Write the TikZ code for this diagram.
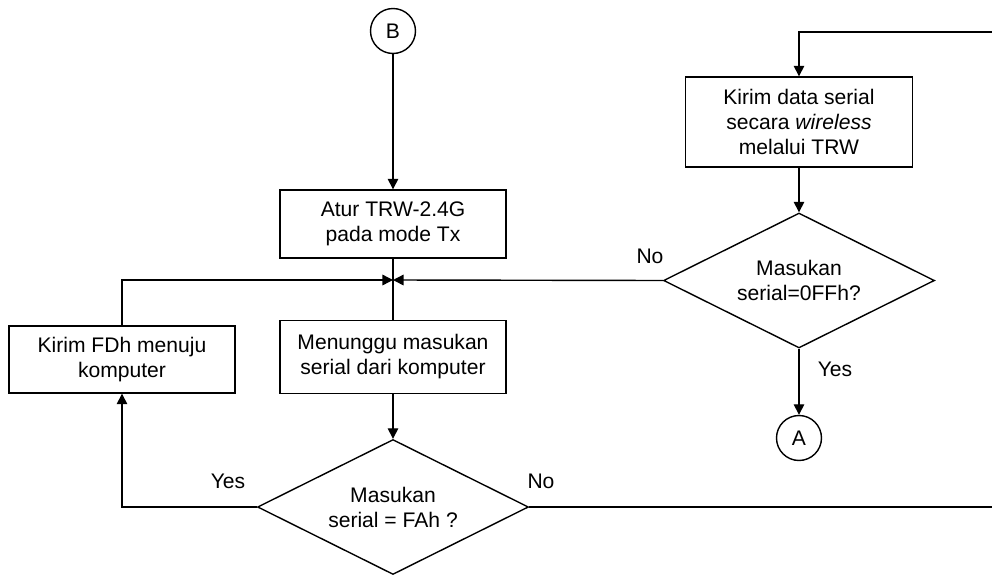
\documentclass[tikz,border=0pt]{standalone}
\usepackage{fontspec}
\setmainfont{Liberation Sans}
\usetikzlibrary{shapes.geometric,arrows.meta}
\begin{document}
\begin{tikzpicture}[x=0.02cm,y=-0.02cm,
  every node/.style={font=\fontsize{12}{14.2}\selectfont},
  line/.style={line width=0.8pt},
  arr/.style={line width=0.8pt,-{Triangle[length=6pt,width=6pt]}},
  procbox/.style={draw,line width=0.8pt,align=center,inner sep=0pt},
  decision/.style={draw,diamond,aspect=2,line width=0.8pt,align=center,inner sep=0pt,minimum width=5.42cm,minimum height=2.7cm},
  conn/.style={draw,circle,line width=0.8pt,inner sep=0pt,minimum size=0.9cm}]
\useasboundingbox (0,0) rectangle (992,575);
\node[conn] (B) at (393,31) {B};
\node[procbox,minimum width=4.52cm,minimum height=1.36cm] (atur) at (393,224) {Atur TRW-2.4G\\pada mode Tx};
\coordinate (J) at (393,280);
\node[procbox,minimum width=4.52cm,minimum height=1.46cm] (tunggu) at (393,357) {Menunggu masukan\\serial dari komputer};
\node[decision] (fah) at (393,507) {Masukan\\serial = FAh ?};
\node[procbox,minimum width=4.52cm,minimum height=1.34cm] (fdh) at (122,359.5) {Kirim FDh menuju\\komputer};
\node[procbox,minimum width=4.54cm,minimum height=1.8cm] (kirim) at (799,122) {Kirim data serial\\secara \textit{wireless}\\melalui TRW};
\node[decision] (ffh) at (799,280.5) {Masukan\\serial=0FFh?};
\node[conn] (A) at (799,438) {A};
\coordinate (topR) at (992,32);
\coordinate (botR) at (992,507);

\draw[arr] (B) -- (atur);
\draw[line] (atur) -- (J);
\draw[line] (J) -- (tunggu);
\draw[arr] (tunggu) -- (fah);
\draw[arr] (fah.west) -- (fah.west -| fdh.south) -- (fdh.south);
\draw[arr] (fdh.north) |- (J);
\draw[line] (fah.east) -- (botR);
\draw[arr] (topR) -| (kirim.north);
\draw[arr] (kirim) -- (ffh);
\draw[arr] (ffh.west) -- (J);
\draw[arr] (ffh.south) -- (A);
\node (yes1) at (228,481) {Yes};
\node (no1) at (541,481) {No};
\node (no2) at (650,256) {No};
\node (yes2) at (835,369) {Yes};
\end{tikzpicture}
\end{document}
